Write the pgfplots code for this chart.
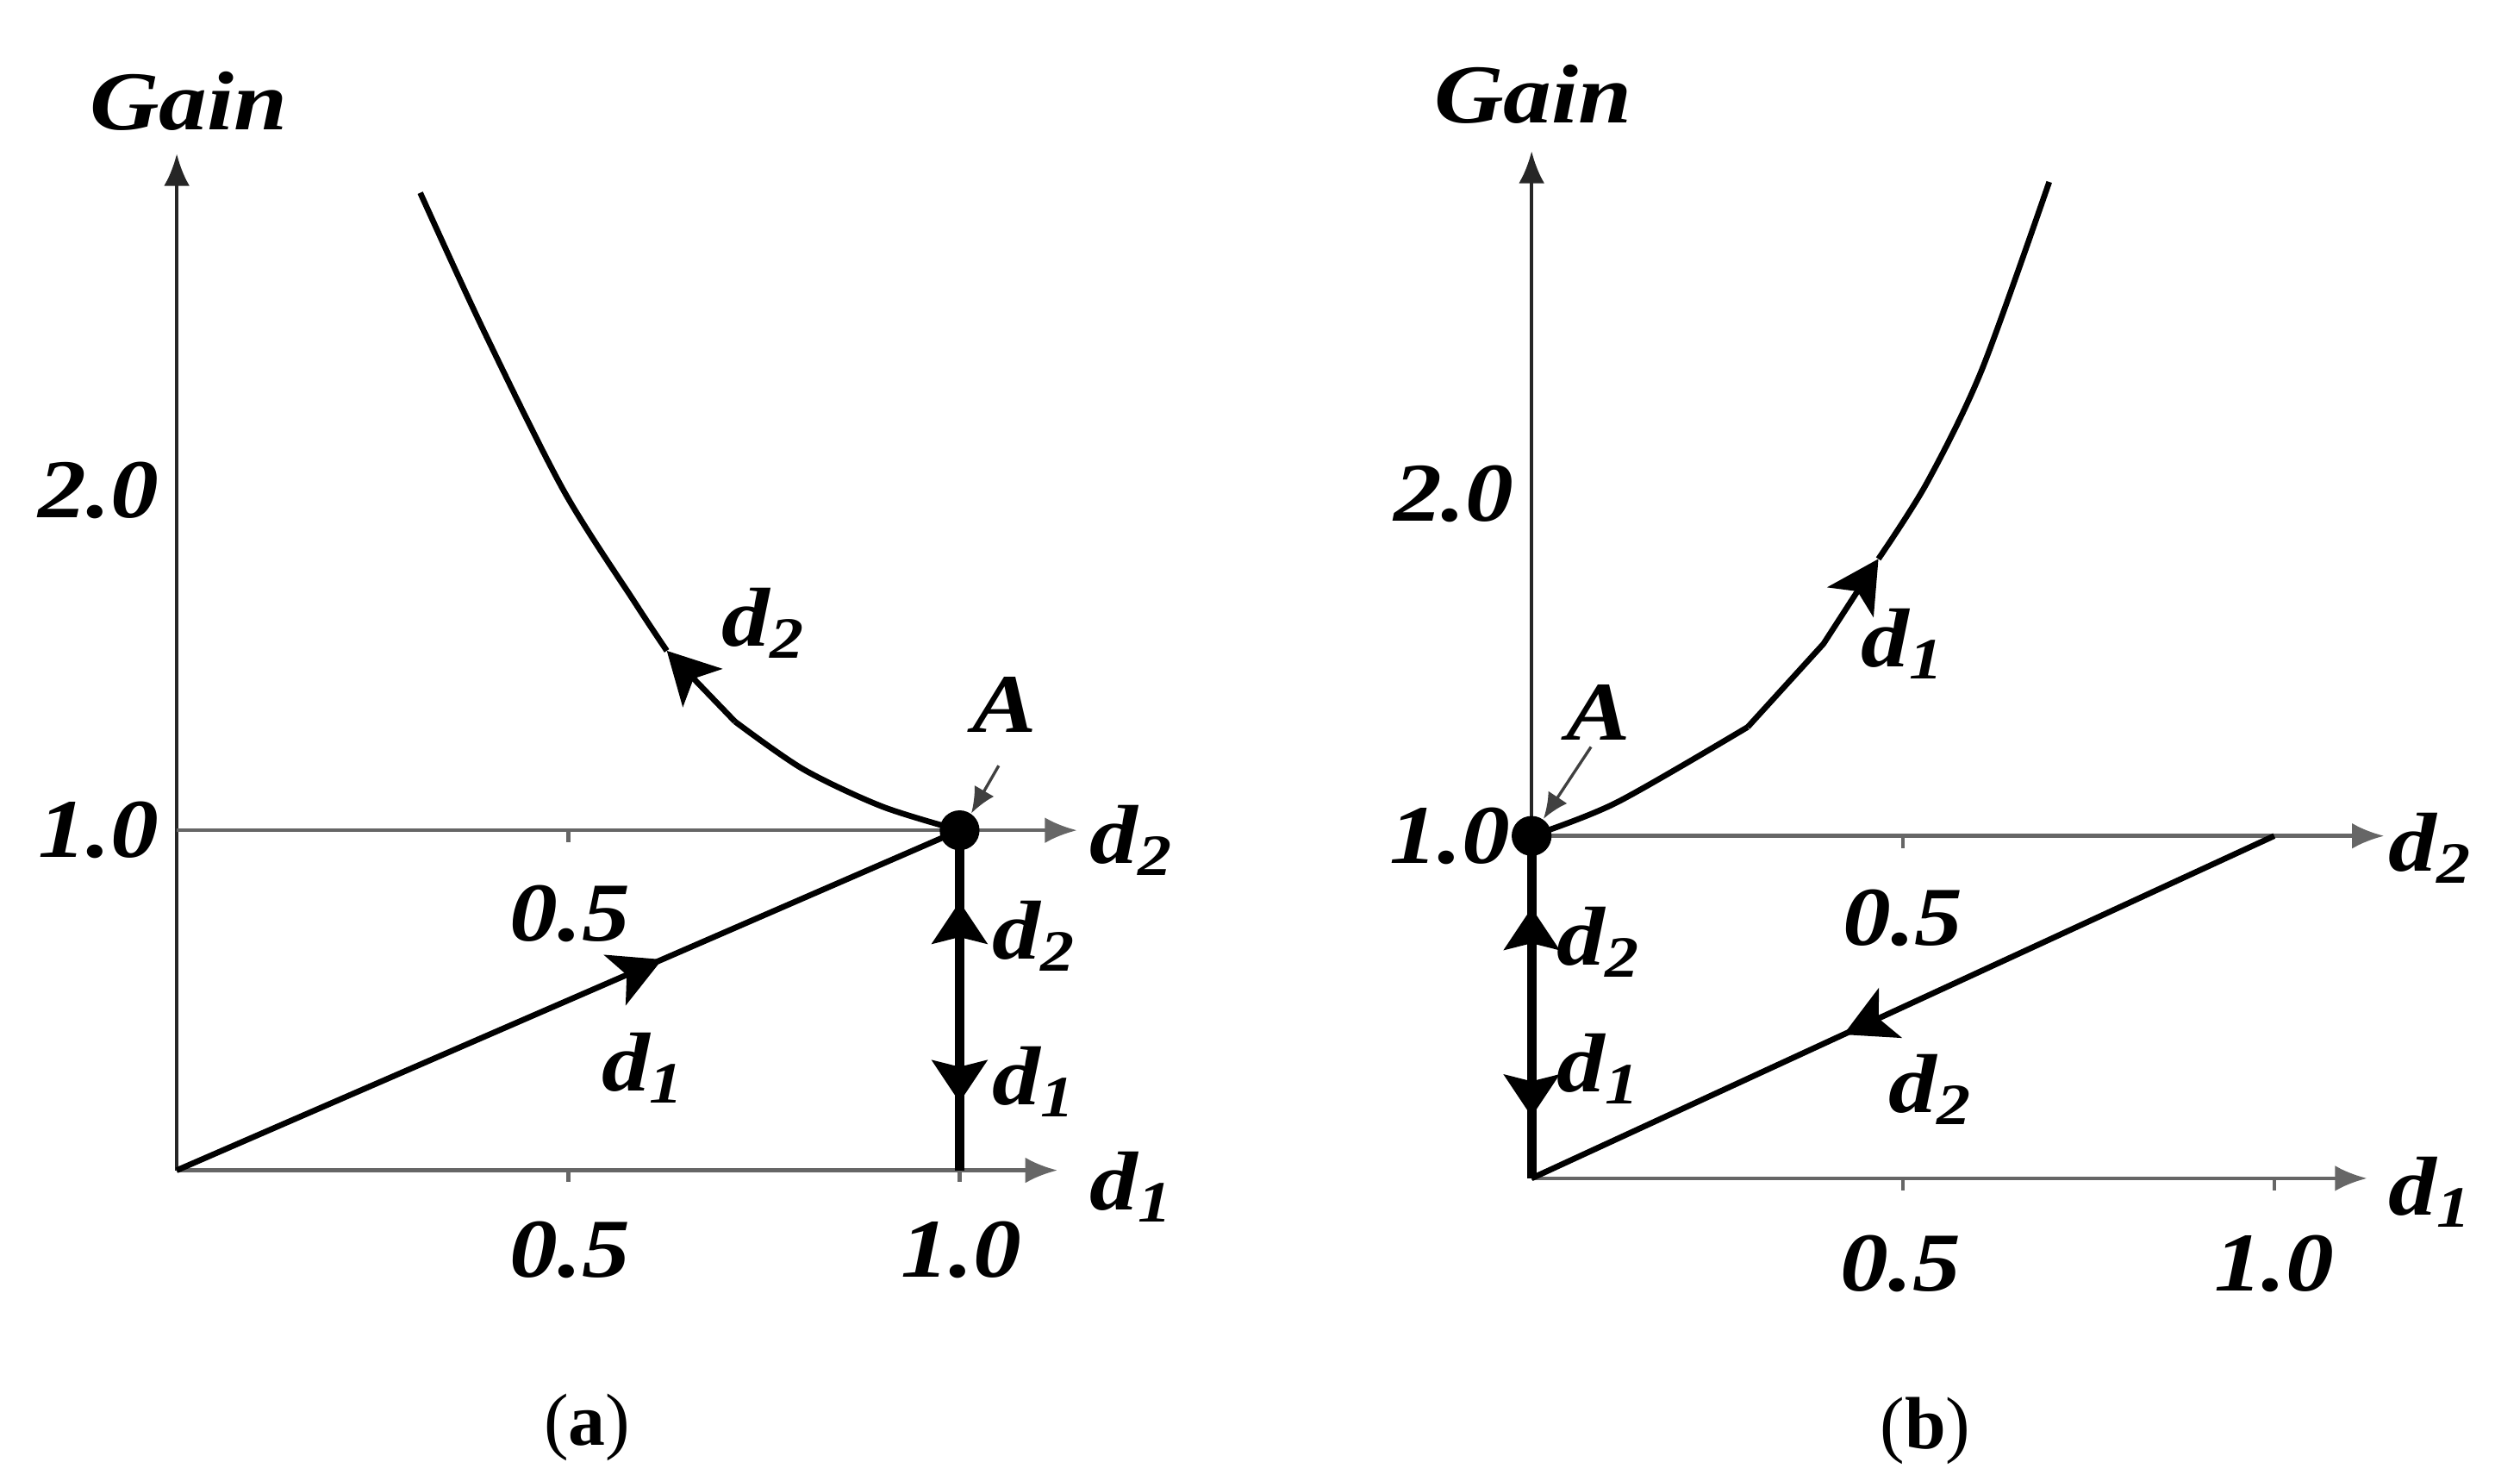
\documentclass[border=0pt]{standalone}
\usepackage{pgfplots}
\pgfplotsset{compat=1.18}
\usetikzlibrary{arrows.meta}
\usepackage{fontspec}
\setmainfont{Liberation Serif}
\newcommand\wide[1]{\scalebox{1.15}[1]{#1}}
\tikzset{
  lbl/.style={font=\fontsize{26}{28}\selectfont\bfseries\itshape, inner sep=0pt},
  captxt/.style={font=\fontsize{23}{25}\selectfont, inner sep=0pt},
}
\pgfplotsset{
  pan/.style={scale only axis, anchor=south west, hide axis, xmin=0, xmax=1.16, ymin=0, ymax=3.0, clip=false},
  axv/.style={line width=1.2pt, black!85, -{Latex[length=10pt,width=8pt]}},
  ax/.style={line width=1.2pt, black!60, -{Latex[length=10pt,width=8pt]}},
  tk/.style={line width=1.2pt, black!60},
  crv/.style={line width=1.8pt, black},
  crva/.style={line width=1.8pt, black, -{Stealth[length=16pt,width=17pt,inset=4pt]}},
  vert/.style={line width=3pt, black},
  verta/.style={line width=3pt, black, -{Stealth[length=13pt,width=17pt,inset=2pt]}},
  aarr/.style={line width=0.9pt, black!75, -{Latex[length=8pt,width=7pt]}},
}
\begin{document}
\begin{tikzpicture}
\path[use as bounding box] (0,0) rectangle (784pt,460.5pt);
% ---------------- panel (a) ----------------
\begin{axis}[pan, at={(55pt,96.5pt)}, width=282.5pt, height=317.25pt]
\addplot[axv] coordinates {(0,0) (0,2.99)};
\addplot[ax] coordinates {(0,0) (1.125,0)};
\addplot[ax] coordinates {(0,1) (1.15,1)};
\addplot[tk] coordinates {(0.5,0) (0.5,-0.035)};
\addplot[tk] coordinates {(1.0,0) (1.0,-0.035)};
\addplot[tk] coordinates {(0.5,1) (0.5,0.965)};
% curve from A upward-left
\addplot[crv, smooth, tension=0.5] coordinates {(1.0,1.0) (0.901,1.07) (0.80,1.18) (0.713,1.32)};
\addplot[crva] coordinates {(0.713,1.32) (0.626,1.528)};
\addplot[crv, smooth, tension=0.5] coordinates {(0.626,1.528) (0.586,1.667) (0.494,2.0) (0.392,2.47) (0.311,2.875)};
% line origin -> A
\addplot[crva] coordinates {(0,0) (0.62,0.62)};
\addplot[crv] coordinates {(0.61,0.61) (1,1)};
% vertical line at d1 = 1
\addplot[vert] coordinates {(1,0) (1,1)};
\addplot[verta] coordinates {(1,0.6) (1,0.79)};
\addplot[verta] coordinates {(1,0.4) (1,0.20)};
\addplot[only marks, mark=*, mark size=6pt, black] coordinates {(1,1)};
\addplot[aarr] coordinates {(1.05,1.19) (1.015,1.05)};
% labels
\node[lbl] at (axis cs:0.015,3.145) {\wide{Gain}};
\node[lbl] at (axis cs:-0.1,2.0) {\wide{2.0}};
\node[lbl] at (axis cs:-0.1,1.0) {\wide{1.0}};
\node[lbl] at (axis cs:0.502,0.755) {\wide{0.5}};
\node[lbl] at (axis cs:0.502,-0.235) {\wide{0.5}};
\node[lbl] at (axis cs:1.002,-0.235) {\wide{1.0}};
\node[lbl] at (axis cs:1.058,1.37) {\wide{A}};
\node[lbl] at (axis cs:0.75,1.61) {\wide{d\textsubscript{2}}};
\node[lbl] at (axis cs:0.596,0.30) {\wide{d\textsubscript{1}}};
\node[lbl] at (axis cs:1.095,0.69) {\wide{d\textsubscript{2}}};
\node[lbl] at (axis cs:1.095,0.26) {\wide{d\textsubscript{1}}};
\node[lbl] at (axis cs:1.22,0.97) {\wide{d\textsubscript{2}}};
\node[lbl] at (axis cs:1.22,-0.05) {\wide{d\textsubscript{1}}};
\node[captxt] at (axis cs:0.524,-0.757) {(\textbf{a})};
\end{axis}
% ---------------- panel (b) ----------------
\begin{axis}[pan, at={(476.5pt,94pt)}, width=268pt, height=319.5pt]
\addplot[axv] coordinates {(0,0) (0,3.0)};
\addplot[ax] coordinates {(0,0) (1.125,0)};
\addplot[ax] coordinates {(0,1) (1.148,1)};
\addplot[tk] coordinates {(0.5,0) (0.5,-0.035)};
\addplot[tk] coordinates {(1.0,0) (1.0,-0.035)};
\addplot[tk] coordinates {(0.5,1) (0.5,0.965)};
% curve from A upward-right
\addplot[crv, smooth, tension=0.5] coordinates {(0,1.0) (0.114,1.097) (0.291,1.318)};
\addplot[crva] coordinates {(0.291,1.318) (0.393,1.561) (0.467,1.809)};
\addplot[crv, smooth, tension=0.5] coordinates {(0.467,1.809) (0.532,2.03) (0.606,2.36) (0.697,2.91)};
% line (1,1) -> origin
\addplot[crva] coordinates {(1,1) (0.42,0.42)};
\addplot[crv] coordinates {(0.43,0.43) (0,0)};
% vertical line at d1 = 0
\addplot[vert] coordinates {(0,0) (0,1)};
\addplot[verta] coordinates {(0,0.6) (0,0.79)};
\addplot[verta] coordinates {(0,0.4) (0,0.18)};
\addplot[only marks, mark=*, mark size=6pt, black] coordinates {(0,1)};
\addplot[aarr] coordinates {(0.08,1.26) (0.016,1.05)};
% labels
\node[lbl] at (axis cs:0.002,3.165) {\wide{Gain}};
\node[lbl] at (axis cs:-0.105,2.0) {\wide{2.0}};
\node[lbl] at (axis cs:-0.11,1.0) {\wide{1.0}};
\node[lbl] at (axis cs:0.5,0.76) {\wide{0.5}};
\node[lbl] at (axis cs:0.497,-0.25) {\wide{0.5}};
\node[lbl] at (axis cs:1.0,-0.25) {\wide{1.0}};
\node[lbl] at (axis cs:0.09,1.36) {\wide{A}};
\node[lbl] at (axis cs:0.50,1.56) {\wide{d\textsubscript{1}}};
\node[lbl] at (axis cs:0.09,0.69) {\wide{d\textsubscript{2}}};
\node[lbl] at (axis cs:0.09,0.32) {\wide{d\textsubscript{1}}};
\node[lbl] at (axis cs:0.537,0.26) {\wide{d\textsubscript{2}}};
\node[lbl] at (axis cs:1.21,0.965) {\wide{d\textsubscript{2}}};
\node[lbl] at (axis cs:1.21,-0.04) {\wide{d\textsubscript{1}}};
\node[captxt] at (axis cs:0.53,-0.737) {(\textbf{b})};
\end{axis}
\end{tikzpicture}
\end{document}
